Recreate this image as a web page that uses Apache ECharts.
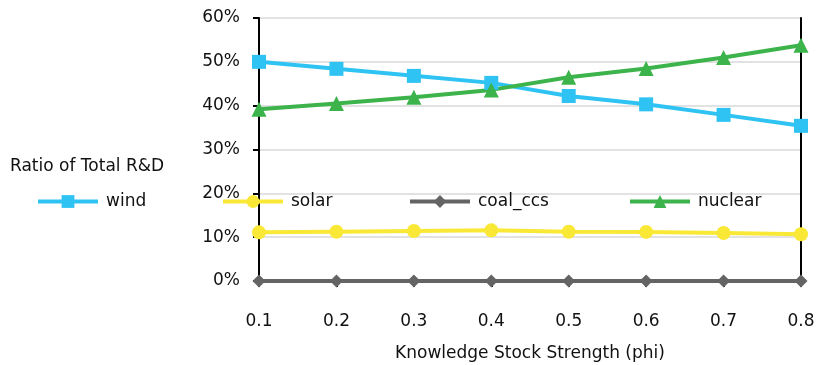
<!DOCTYPE html>
<html>
<head>
<meta charset="utf-8">
<script src="https://cdn.jsdelivr.net/npm/echarts@6/dist/echarts.min.js"></script>
<style>html,body{margin:0;padding:0;background:#fff}#c{width:817px;height:365px}</style>
</head>
<body>
<div id="c"></div>
<script>
// Knowledge stock strength values on the x axis
const phi = ['0.1', '0.2', '0.3', '0.4', '0.5', '0.6', '0.7', '0.8'];
// Share of total R&D (%) per technology
const wind    = [50.0, 48.4, 46.8, 45.2, 42.2, 40.3, 37.9, 35.4];
const solar   = [11.1, 11.25, 11.4, 11.55, 11.25, 11.2, 10.95, 10.65];
const coalCcs = [0, 0, 0, 0, 0, 0, 0, 0];
const nuclear = [39.2, 40.5, 41.9, 43.6, 46.5, 48.5, 51.0, 53.8];

const FONT = 'DejaVu Sans';
const FS = 17;
const C = { wind: '#2EC3F3', solar: '#FAE836', coal: '#646464', nuclear: '#3DB44B' };

const chart = echarts.init(document.getElementById('c'));
const legendText = { fontFamily: FONT, fontSize: FS, color: '#111', padding: [0, 0, 0, 3] };
function legendAt(name, left) {
  return {
    data: [name], left: left, top: 193, padding: 0, itemWidth: 60, itemHeight: 16,
    itemGap: 0, textStyle: legendText, selectedMode: false,
    lineStyle: { width: 4 }
  };
}
chart.setOption({
  animation: false,
  title: {
    text: 'Ratio of Total R&D', left: 5, top: 153,
    textStyle: { fontFamily: FONT, fontSize: FS, fontWeight: 'normal', color: '#111' }
  },
  legend: [
    legendAt('wind', 36),
    legendAt('solar', 221),
    legendAt('coal_ccs', 408),
    legendAt('nuclear', 628)
  ],
  grid: { left: 259, right: 16, top: 18, bottom: 84, outerBoundsMode: 'none' },
  xAxis: {
    type: 'category', data: phi, boundaryGap: false,
    name: 'Knowledge Stock Strength (phi)', nameLocation: 'middle', nameGap: 64,
    nameTextStyle: { fontFamily: FONT, fontSize: FS, color: '#111' },
    axisLine: { lineStyle: { color: '#000', width: 2 } },
    axisTick: { alignWithLabel: true, length: 6, lineStyle: { color: '#000', width: 2 } },
    axisLabel: { fontFamily: FONT, fontSize: FS, color: '#111', margin: 32 }
  },
  yAxis: [{
    type: 'value', min: 0, max: 60, interval: 10,
    axisLine: { show: true, lineStyle: { color: '#000', width: 2 } },
    axisTick: { show: true, length: 6, lineStyle: { color: '#000', width: 2 } },
    axisLabel: { formatter: '{value}%', fontFamily: FONT, fontSize: FS, color: '#111', margin: 19 },
    splitLine: { lineStyle: { color: '#d9d9d9', width: 1.5 } }
  }, {
    type: 'value', min: 0, max: 60, interval: 10, position: 'right',
    axisLine: { show: true, lineStyle: { color: '#000', width: 2 } },
    axisTick: { show: false }, axisLabel: { show: false }, splitLine: { show: false }
  }],
  series: [
    { name: 'wind', type: 'line', data: wind, symbol: 'rect', symbolSize: 14,
      lineStyle: { width: 4, color: C.wind }, itemStyle: { color: C.wind } },
    { name: 'solar', type: 'line', data: solar, symbol: 'circle', symbolSize: 14,
      lineStyle: { width: 4, color: C.solar }, itemStyle: { color: C.solar } },
    { name: 'coal_ccs', type: 'line', data: coalCcs, symbol: 'diamond', symbolSize: 13,
      lineStyle: { width: 4, color: C.coal }, itemStyle: { color: C.coal } },
    { name: 'nuclear', type: 'line', data: nuclear, symbol: 'triangle', symbolSize: 15,
      lineStyle: { width: 4, color: C.nuclear }, itemStyle: { color: C.nuclear } }
  ]
});
</script>
</body>
</html>
